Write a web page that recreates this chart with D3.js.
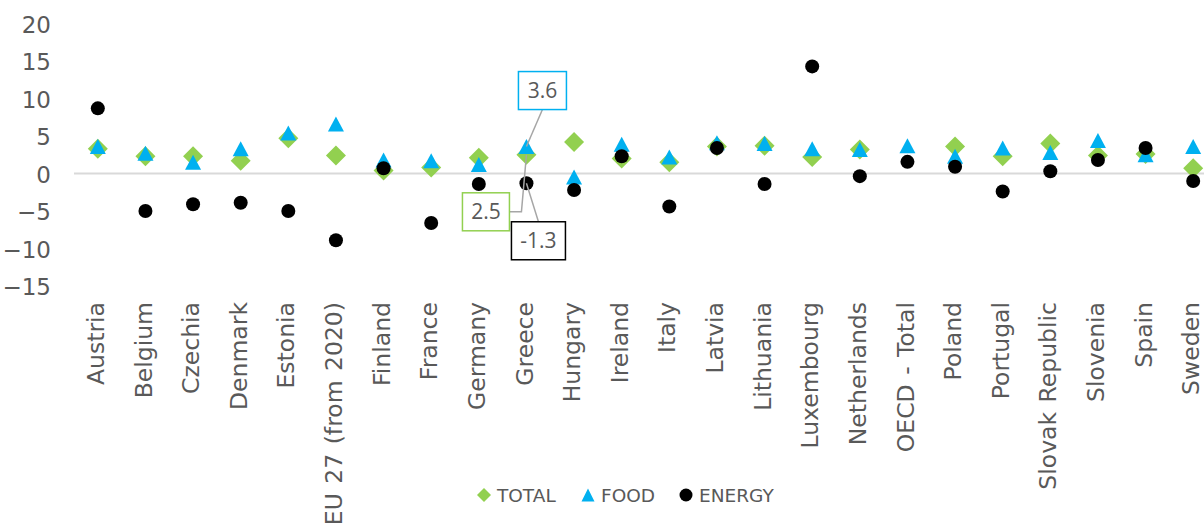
<!DOCTYPE html>
<html>
<head>
<meta charset="utf-8">
<script src="https://cdn.jsdelivr.net/npm/d3@7"></script>
<style>
  html, body { margin: 0; padding: 0; background: #fff; }
  svg { display: block; }
  text { font-family: "DejaVu Sans", Verdana, sans-serif; fill: #595959; }
</style>
</head>
<body>
<svg id="chart" width="1204" height="526"></svg>
<script>
// Annual change (%) by country: total, food and energy price components
const categories = ["Austria", "Belgium", "Czechia", "Denmark", "Estonia", "EU 27 (from 2020)",
  "Finland", "France", "Germany", "Greece", "Hungary", "Ireland", "Italy", "Latvia", "Lithuania",
  "Luxembourg", "Netherlands", "OECD - Total", "Poland", "Portugal", "Slovak Republic",
  "Slovenia", "Spain", "Sweden"];
const totalValues  = [3.3, 2.3, 2.3, 1.7, 4.7, 2.4, 0.4, 0.8, 2.1, 2.5, 4.2, 2.0, 1.5, 3.6, 3.7, 2.2, 3.2, null, 3.6, 2.3, 4.0, 2.4, 2.6, 0.7];
const foodValues   = [3.6, 2.7, 1.5, 3.3, 5.4, 6.6, 1.8, 1.7, 1.2, 3.6, -0.45, 3.9, 2.2, 4.1, 4.0, 3.3, 3.2, 3.7, 2.3, 3.4, 2.8, 4.4, 2.5, 3.6];
const energyValues = [8.7, -5.0, -4.1, -3.9, -5.0, -8.9, 0.7, -6.6, -1.4, -1.3, -2.2, 2.3, -4.4, 3.4, -1.4, 14.3, -0.35, 1.56, 0.9, -2.4, 0.3, 1.8, 3.4, -1.0];
const yTicks = [20, 15, 10, 5, 0, -5, -10, -15];
const seriesNames = ["TOTAL", "FOOD", "ENERGY"];
const highlighted = "Greece";

const svg = d3.select("#chart");

const x = d3.scaleBand().domain(categories).range([74, 1217]).paddingInner(0).paddingOuter(0);
const y = d3.scaleLinear().domain([-15, 20]).range([285.9, 23.7]);
const cx = c => x(c) + x.bandwidth() / 2;

// marker shapes (centred on their bounding box)
const diamondPath = "M0,-10L10,0L0,10L-10,0Z";
const trianglePath = "M0,-7.5L8,7.5L-8,7.5Z";

const series = [
  { name: seriesNames[0], values: totalValues,  color: "#92d050", shape: "diamond" },
  { name: seriesNames[1], values: foodValues,   color: "#00b0f0", shape: "triangle" },
  { name: seriesNames[2], values: energyValues, color: "#000000", shape: "circle" }
];

// y axis labels
const yAxis = d3.axisLeft(y).tickValues(yTicks).tickSize(0).tickPadding(0).tickFormat(d3.format("d"));
const yg = svg.append("g").attr("transform", "translate(51,0)").call(yAxis);
yg.select(".domain").remove();
yg.selectAll("text").style("font-size", "23px").attr("fill", "#595959").attr("dy", "0.38em");

// zero line
svg.append("line")
  .attr("x1", 74).attr("x2", 1204)
  .attr("y1", y(0)).attr("y2", y(0))
  .attr("stroke", "#d9d9d9").attr("stroke-width", 2);

// category labels
const xAxis = d3.axisBottom(x).tickSize(0).tickPadding(0);
const xg = svg.append("g").attr("transform", "translate(0,302)").call(xAxis);
xg.select(".domain").remove();
xg.selectAll("text")
  .style("font-size", "23.5px")
  .style("word-spacing", "2px")
  .attr("fill", "#595959")
  .attr("transform", "rotate(-90)")
  .attr("text-anchor", "end")
  .attr("x", 0).attr("y", 0)
  .attr("dy", "0.26em");

// markers
const rows = categories.map((c, i) => ({ c, i }));
series.forEach(s => {
  const g = svg.append("g").attr("class", "series-" + s.name);
  const pts = rows.filter(r => s.values[r.i] !== null);
  if (s.shape === "circle") {
    g.selectAll("circle").data(pts).join("circle")
      .attr("cx", r => cx(r.c)).attr("cy", r => y(s.values[r.i]))
      .attr("r", 7).attr("fill", s.color);
  } else {
    g.selectAll("path").data(pts).join("path")
      .attr("d", s.shape === "diamond" ? diamondPath : trianglePath)
      .attr("transform", r => `translate(${cx(r.c)},${y(s.values[r.i])})`)
      .attr("fill", s.color);
  }
});

// value callouts for the highlighted country
const hi = categories.indexOf(highlighted);
const hx = cx(highlighted);
const callouts = [
  { series: series[1], dx: -8, dy: -75, w: 48, h: 38, anchor: "bottom" },
  { series: series[0], dx: -64, dy: 38, w: 47, h: 38, anchor: "right" },
  { series: series[2], dx: -15, dy: 38.5, w: 54, h: 38, anchor: "top" }
];
const cg = svg.append("g").attr("class", "callouts");
callouts.forEach(o => {
  const v = o.series.values[hi];
  const py = y(v);
  const bx = hx + o.dx, by = py + o.dy;
  let path;
  if (o.anchor === "bottom") {
    path = `M${bx + o.w / 2},${by + o.h}L${hx},${py}`;
  } else if (o.anchor === "right") {
    path = `M${bx + o.w},${by + o.h / 2}L${hx - 5},${by + o.h / 2}L${hx},${py}`;
  } else {
    path = `M${bx + o.w / 2},${by}L${hx},${py}`;
  }
  cg.append("path").attr("d", path).attr("fill", "none")
    .attr("stroke", "#a6a6a6").attr("stroke-width", 1.5);
  cg.append("rect")
    .attr("x", bx).attr("y", by).attr("width", o.w).attr("height", o.h)
    .attr("fill", "#fff").attr("stroke", o.series.color).attr("stroke-width", 1.5);
  cg.append("text")
    .attr("x", bx + o.w / 2).attr("y", by + o.h / 2).attr("dy", "0.36em")
    .attr("text-anchor", "middle")
    .style("font-family", "'Open Sans', sans-serif").style("font-size", "21px")
    .attr("fill", "#404040")
    .text(d3.format(".1f")(v).replace("\u2212", "-"));
});

// legend
const legendItems = [
  { s: series[0], mx: 484, tx: 497 },
  { s: series[1], mx: 588, tx: 601 },
  { s: series[2], mx: 686, tx: 699 }
];
const lg = svg.append("g").attr("class", "legend");
legendItems.forEach(d => {
  if (d.s.shape === "circle") {
    lg.append("circle").attr("cx", d.mx).attr("cy", 495).attr("r", 6.5).attr("fill", d.s.color);
  } else if (d.s.shape === "diamond") {
    lg.append("path").attr("d", "M0,-7L7,0L0,7L-7,0Z").attr("transform", `translate(${d.mx},495)`).attr("fill", d.s.color);
  } else {
    lg.append("path").attr("d", "M0,-6.5L6.5,6.5L-6.5,6.5Z").attr("transform", `translate(${d.mx},495)`).attr("fill", d.s.color);
  }
  lg.append("text").attr("x", d.tx).attr("y", 495).attr("dy", "0.36em")
    .style("font-size", "18.5px").attr("fill", "#595959").text(d.s.name);
});
</script>
</body>
</html>
